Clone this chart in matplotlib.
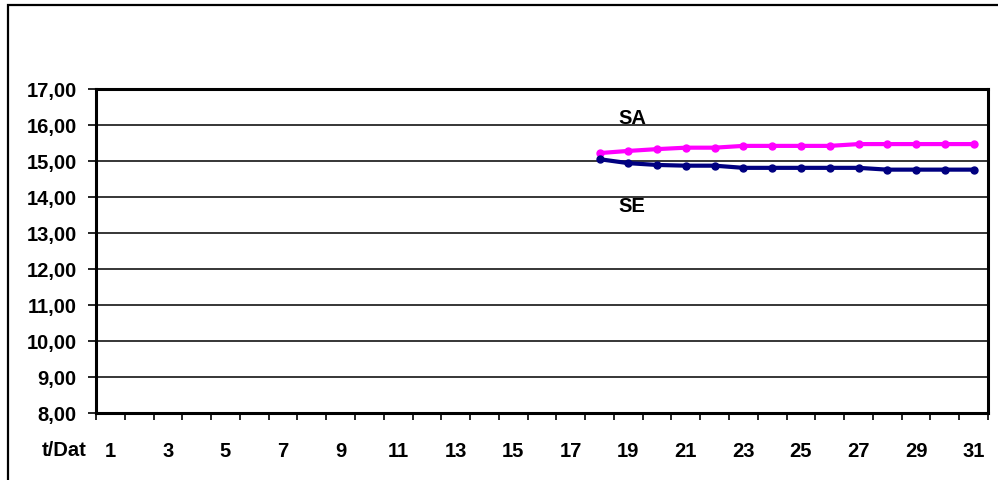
import matplotlib
matplotlib.use("Agg")
import matplotlib.pyplot as plt
from matplotlib.patches import Rectangle
from matplotlib.ticker import FixedLocator, FuncFormatter

plt.rcParams['font.family'] = ['Liberation Sans', 'DejaVu Sans']
plt.rcParams['font.weight'] = 'bold'

# Daily series (days 18..31)
days = list(range(18, 32))
sa_values = [15.22, 15.28, 15.33, 15.37, 15.37, 15.42, 15.42, 15.42, 15.42,
             15.47, 15.47, 15.47, 15.47, 15.47]
se_values = [15.05, 14.94, 14.89, 14.87, 14.87, 14.81, 14.81, 14.81, 14.81,
             14.81, 14.76, 14.76, 14.76, 14.76]

y_ticks = [8, 9, 10, 11, 12, 13, 14, 15, 16, 17]
x_labels = list(range(1, 32, 2))

W, H = 998, 481
fig = plt.figure(figsize=(W / 100, H / 100), dpi=100)
fig.patch.set_facecolor('white')

# chart frame (open to the right and bottom edges)
fig.patches.append(Rectangle((8 / W, -0.2), 1.2, 1.2 - 6 / H, transform=fig.transFigure,
                             fill=False, edgecolor='black', linewidth=1.6))

ax = fig.add_axes([96 / W, 1 - 414 / H, (988 - 96) / W, 324 / H])
ax.set_xlim(0.5, 31.5)
ax.set_ylim(8, 17)

for y in y_ticks:
    ax.axhline(y, color='black', linewidth=1.1, zorder=1)

ax.plot(days, sa_values, color='#FF00FF', linewidth=3.0, marker='o',
        markersize=5, zorder=3, solid_capstyle='round')
ax.plot(days, se_values, color='#000080', linewidth=3.0, marker='o',
        markersize=5, zorder=3, solid_capstyle='round')

for s in ax.spines.values():
    s.set_linewidth(2.2)
    s.set_color('black')

ax.yaxis.set_major_locator(FixedLocator(y_ticks))
ax.yaxis.set_major_formatter(FuncFormatter(lambda v, p: f"{v:.2f}".replace('.', ',')))
ax.tick_params(axis='y', which='major', direction='out', length=6, width=1.2,
               pad=8, labelsize=14.5)

ax.xaxis.set_major_locator(FixedLocator(x_labels))
ax.xaxis.set_major_formatter(FuncFormatter(lambda v, p: f"{int(v)}"))
ax.xaxis.set_minor_locator(FixedLocator([d + 0.5 for d in range(0, 32)]))
ax.tick_params(axis='x', which='major', length=0, pad=20, labelsize=14.5)
ax.tick_params(axis='x', which='minor', direction='out', length=5, width=1.2)

for lab in ax.get_xticklabels() + ax.get_yticklabels():
    lab.set_fontweight('bold')

fig.text(87 / W, 1 - 450 / H, 't/Dat', ha='right', va='center',
         fontsize=14.5, fontweight='bold')

ax.text(632 / W, 1 - 118 / H, 'SA', transform=fig.transFigure, ha='center',
        va='center', fontsize=14.5, fontweight='bold')
ax.text(632 / W, 1 - 207 / H, 'SE', transform=fig.transFigure, ha='center',
        va='center', fontsize=14.5, fontweight='bold')

fig.savefig('out.png', dpi=100, facecolor='white')
